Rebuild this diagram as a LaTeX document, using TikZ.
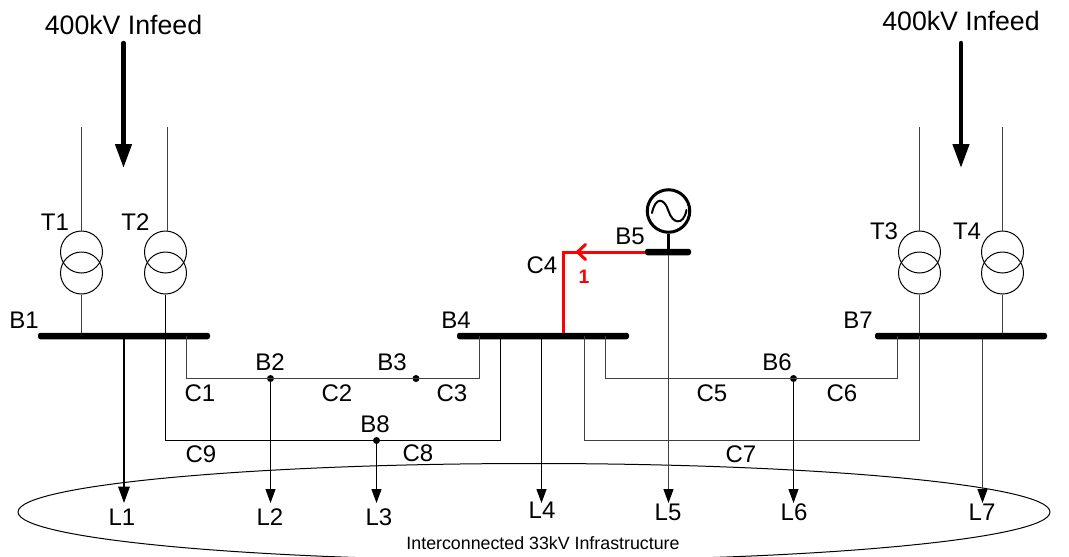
\documentclass[tikz,border=0pt]{standalone}
\usepackage{fontspec}
\setmainfont{Liberation Sans}
\usetikzlibrary{arrows.meta,shapes.geometric}
\definecolor{wiregrey}{gray}{0.25}
\tikzset{
  lbl/.style={inner sep=0pt,font=\fontsize{24}{28}\selectfont,text=black},
  infeedlbl/.style={inner sep=0pt,font=\fontsize{26.7}{30}\selectfont,text=black},
  smalllbl/.style={inner sep=0pt,font=\fontsize{17.8}{21}\selectfont,text=black},
  wire/.style={draw=wiregrey,line width=1.2pt},
  feeder/.style={draw=black,line width=1.1pt,-{Triangle[length=14pt,width=10pt,color=black]}},
  mainfeeder/.style={draw=black,line width=1.8pt,-{Triangle[length=16.5pt,width=11.5pt,color=black]}},
  infeed/.style={draw=black,line width=4.4pt,line cap=round,-{Triangle[length=24pt,width=16pt]}},
  busbar/.style={draw=none,fill=black,rectangle,rounded corners=2.5pt,minimum height=6.5pt,inner sep=0pt},
  txwind/.style={circle,draw=black,line width=1pt,minimum size=42pt,inner sep=0pt},
  junction/.style={circle,fill=black,minimum size=7pt,inner sep=0pt},
  redline/.style={draw=red,line width=3pt},
}
\begin{document}
\begin{tikzpicture}[x=1pt,y=-1pt]
\path[clip] (0,0) rectangle (1069,557);
\fill[white] (0,0) rectangle (1069,557);

% ellipse
\node[ellipse,draw=black,line width=1pt,minimum width=1032pt,minimum height=97pt,inner sep=0pt] (infra) at (534,512) {};

% buses
\node[busbar,minimum width=172pt] (b1) at (124,336) {};
\node[busbar,minimum width=172pt] (b4) at (543,336) {};
\node[busbar,minimum width=172pt] (b7) at (961,336) {};
\node[busbar,minimum width=46pt] (b5) at (668,252) {};

% transformers
\node[txwind] (t1a) at (81.5,252) {};
\node[txwind] (t1b) at (81.5,273) {};
\node[txwind] (t2a) at (165.5,252) {};
\node[txwind] (t2b) at (165.5,273) {};
\node[txwind] (t3a) at (919.5,252) {};
\node[txwind] (t3b) at (919.5,273) {};
\node[txwind] (t4a) at (1002.5,252) {};
\node[txwind] (t4b) at (1002.5,273) {};

% generator
\node[circle,draw=black,line width=3pt,minimum size=42.5pt,inner sep=0pt] (gen) at (668.5,211) {};
\draw[black,line width=2pt,line cap=round]
  ([shift={(-16.5,2)}]gen.center) .. controls ([shift={(-13,-15)}]gen.center) and ([shift={(-4,-13)}]gen.center) .. (gen.center)
  .. controls ([shift={(4,13)}]gen.center) and ([shift={(15,15)}]gen.center) .. ([shift={(18,-1)}]gen.center);
\draw[black,line width=3pt] (gen.south) -- (gen.south |- b5.north);

% tops
\coordinate (t1top) at (81.5,127);
\coordinate (t2top) at (167.5,127);
\coordinate (t3top) at (919.5,127);
\coordinate (t4top) at (1002.5,127);
\draw[wire] (t1top) -- (t1top |- t1a.north);
\draw[wire] (t2top) -- (t2top |- t2a.north);
\draw[wire] (t3top) -- (t3top |- t3a.north);
\draw[wire] (t4top) -- (t4top |- t4a.north);
\draw[wire] (t1b.south) -- (t1b.south |- b1.north);
\draw[wire,draw=black] (t2b.south) -- (t2b.south |- b1.north);
\draw[wire] (t3b.south) -- (t3b.south |- b7.north);
\draw[wire] (t4b.south) -- (t4b.south |- b7.north);

% infeed arrows
\coordinate (inL0) at (123.5,43);
\coordinate (inL1) at (123.5,168);
\coordinate (inR0) at (961,43);
\coordinate (inR1) at (961,168);
\draw[infeed] (inL0) -- (inL1);
\draw[infeed] (inR0) -- (inR1);

% junctions
\node[junction] (jb2) at (270.5,378.5) {};
\node[junction] (jb3) at (416,378.5) {};
\node[junction] (jb8) at (376.5,440.5) {};
\node[junction] (jb6) at (793.5,378.5) {};

% cable loops
\coordinate (c1) at (186.5,336);
\coordinate (c3) at (479.5,336);
\coordinate (c9) at (165.5,336);
\coordinate (c8) at (500.5,336);
\coordinate (c5) at (605.5,336);
\coordinate (c6) at (897.5,336);
\coordinate (c7a) at (584.5,336);
\coordinate (c7b) at (919.5,336);
\coordinate (c7m) at (750,440.5);
\draw[wire] (c1) |- (jb2.center) -- (jb3.center) -| (c3);
\draw[wire,draw=black] (c9) |- (jb8.center) -| (c8);
\draw[wire] (c5) |- (jb6.center) -| (c6);
\draw[wire] (c7a) |- (c7m) -| (c7b);

% load arrows
\coordinate (l1t) at (124,503);
\coordinate (l2t) at (270.5,503);
\coordinate (l3t) at (376.5,503);
\coordinate (l4t) at (541.5,503);
\coordinate (l5t) at (668.5,503);
\coordinate (l6t) at (793.5,503);
\coordinate (l7t) at (982.5,503);
\draw[mainfeeder] (l1t |- b1.south) -- (l1t);
\draw[feeder] (jb2.center) -- (l2t);
\draw[feeder] (jb8.center) -- (l3t);
\draw[feeder] (l4t |- b4.south) -- (l4t);
\draw[feeder,draw=wiregrey] (l5t |- b5.south) -- (l5t);
\draw[feeder] (jb6.center) -- (l6t);
\draw[feeder,draw=wiregrey] (l7t |- b7.south) -- (l7t);

% red feeder
\coordinate (corner) at (563.5,252);
\coordinate (rchev) at (577.5,252);
\draw[redline,line join=miter] (b5.west) -- (corner) -- (corner |- b4.north);
\draw[draw=red,line width=3pt,line cap=round,line join=miter] ([shift={(8,-7.5)}]rchev) -- (rchev) -- ([shift={(8,7.5)}]rchev);
\node[inner sep=0pt,font=\fontsize{19.5}{22}\selectfont\bfseries,text=red] (one) at (584,277) {1};

% text
\node[infeedlbl] (inLt) at (123.5,25) {400kV Infeed};
\node[infeedlbl] (inRt) at (961,21) {400kV Infeed};
\node[lbl] (tT1) at (55,222) {T1};
\node[lbl] (tT2) at (135.5,222) {T2};
\node[lbl] (tT3) at (884,231) {T3};
\node[lbl] (tT4) at (967,231) {T4};
\node[lbl] (tB1) at (24,320) {B1};
\node[lbl] (tB4) at (456,320) {B4};
\node[lbl] (tB7) at (858,320) {B7};
\node[lbl] (tB5) at (630,236) {B5};
\node[lbl] (tC4) at (542,265) {C4};
\node[lbl] (tB2) at (270,362) {B2};
\node[lbl] (tB3) at (392,362) {B3};
\node[lbl] (tB6) at (777,362) {B6};
\node[lbl] (tB8) at (375,424) {B8};
\node[lbl] (tC1) at (200,393) {C1};
\node[lbl] (tC2) at (337,393) {C2};
\node[lbl] (tC3) at (452,393) {C3};
\node[lbl] (tC5) at (712,393) {C5};
\node[lbl] (tC6) at (842,393) {C6};
\node[lbl] (tC9) at (201,454) {C9};
\node[lbl] (tC8) at (418,453) {C8};
\node[lbl] (tC7) at (741,454) {C7};
\node[lbl] (tL1) at (122,517) {L1};
\node[lbl] (tL2) at (270,517) {L2};
\node[lbl] (tL3) at (379,517) {L3};
\node[lbl] (tL4) at (542,510) {L4};
\node[lbl] (tL5) at (668,512) {L5};
\node[lbl] (tL6) at (794,512) {L6};
\node[lbl] (tL7) at (982,512) {L7};
\node[smalllbl] (tinfra) at (543,543) {Interconnected 33kV Infrastructure};
\end{tikzpicture}
\end{document}
